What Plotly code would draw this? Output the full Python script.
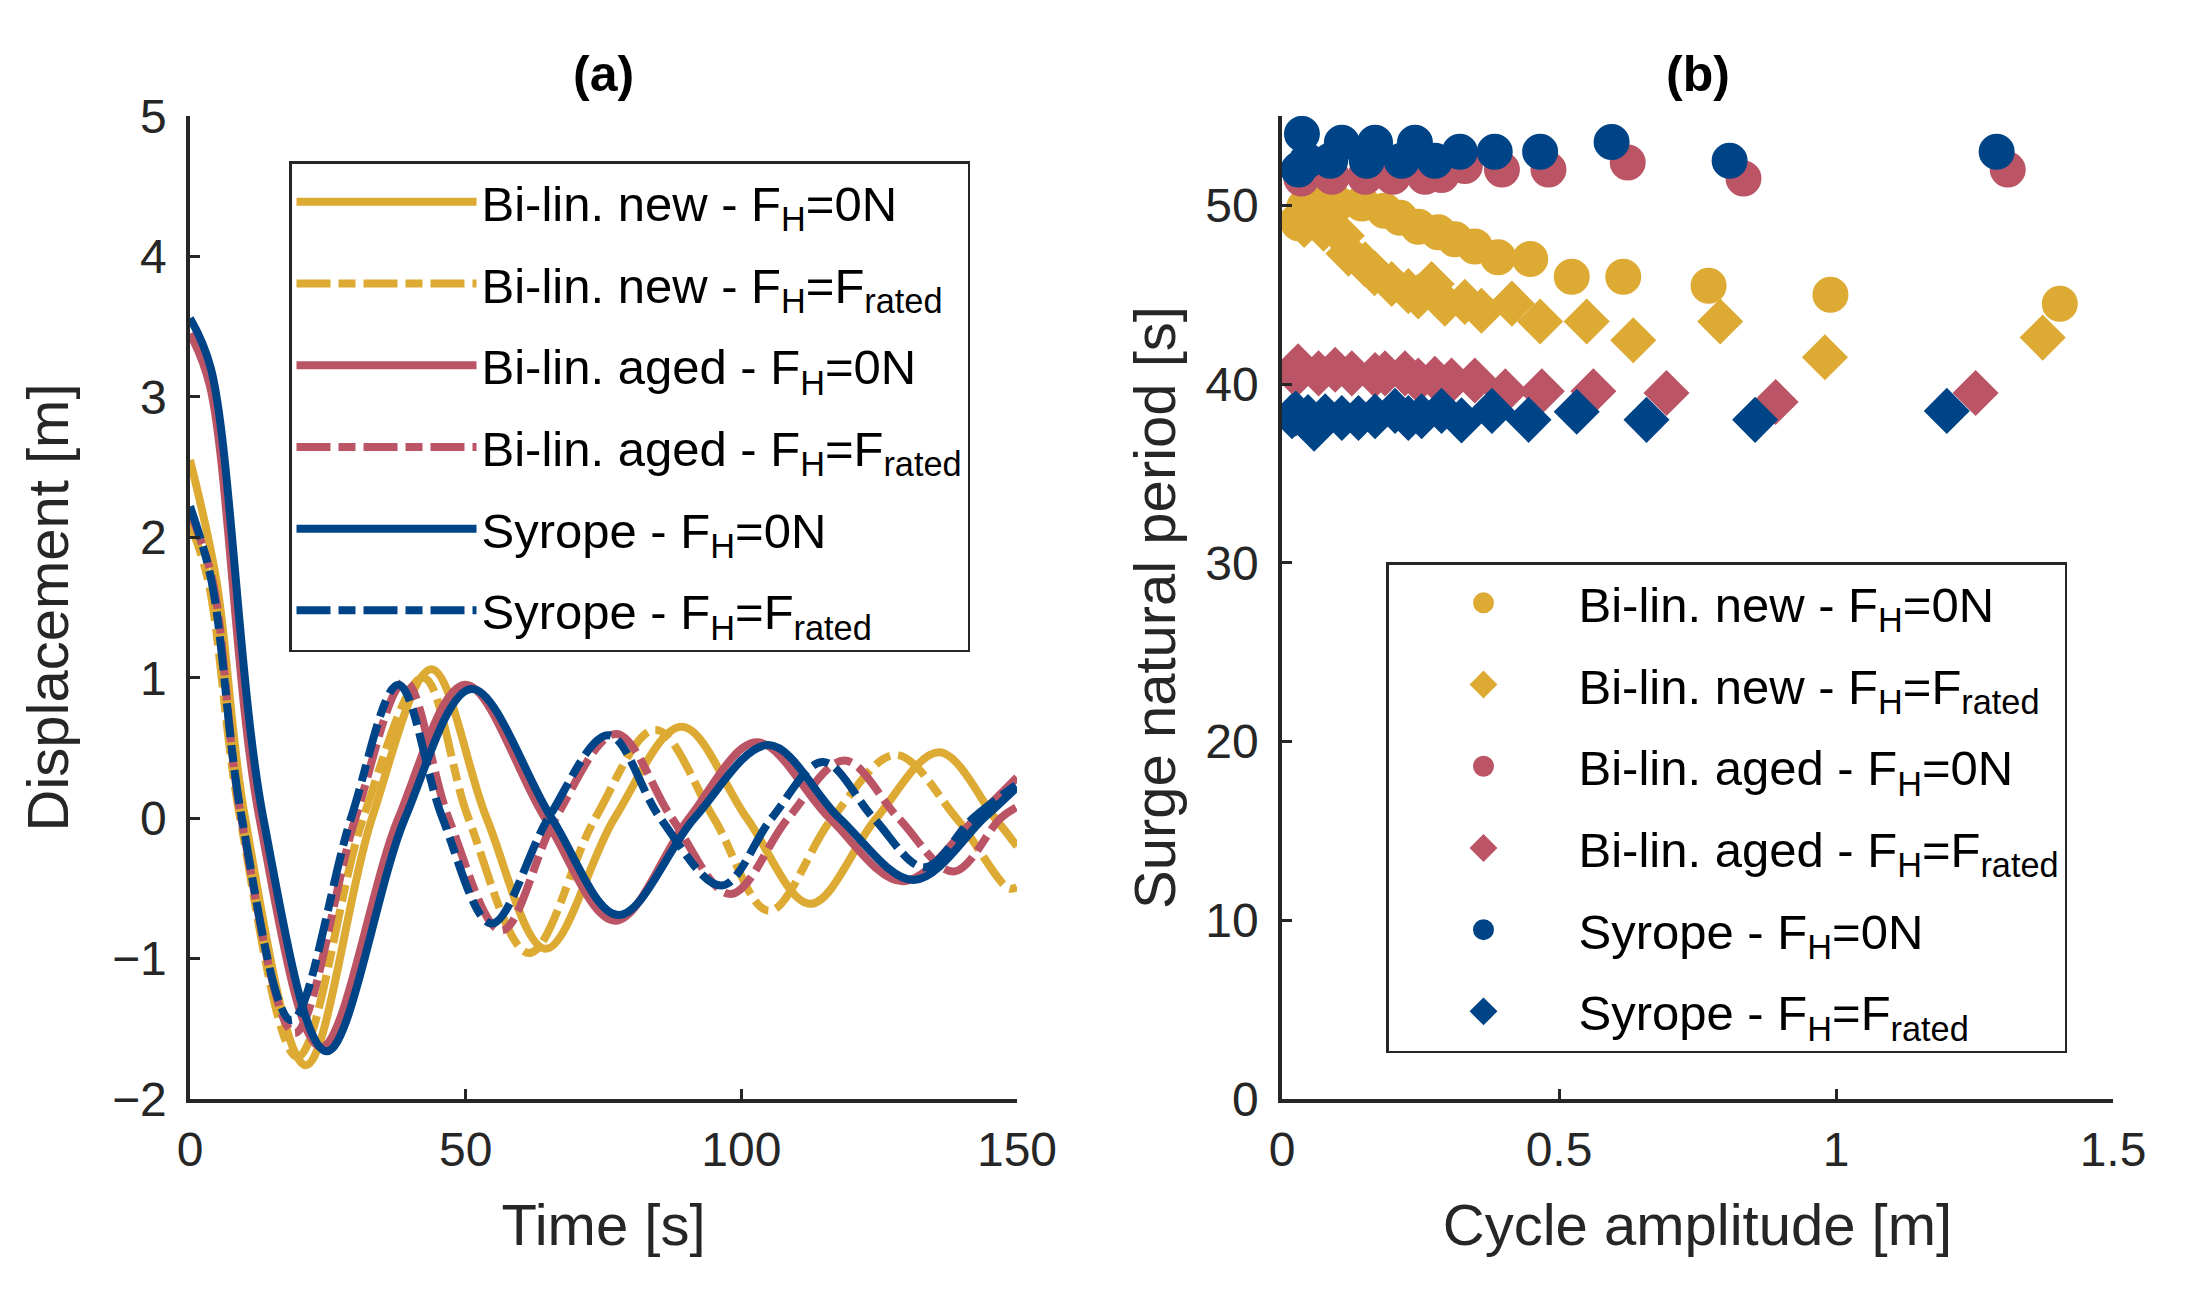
import plotly.graph_objects as go

# ---------------- Panel (a): free-decay time series ----------------
# values (start, early point, zero crossings and extrema)
t_new0 = [0, 4.8, 10.0, 21.0, 33.0, 43.8, 53.8, 64.5, 77.0, 89.2, 101.0, 112.5, 124.5, 135.9, 146.0, 150]
d_new0 = [2.55, 1.69, 0, -1.76, 0, 1.06, 0, -0.93, 0, 0.65, 0, -0.61, 0, 0.47, 0, -0.20]

t_newR = [0, 3.3, 9.1, 19.5, 31.4, 42.3, 50.5, 61.5, 73.5, 84.4, 95.0, 105.0, 116.5, 128.0, 139.0, 148.5, 150]
d_newR = [2.10, 1.69, 0, -1.70, 0, 1.0, 0, -0.96, 0, 0.63, 0, -0.66, 0, 0.45, 0, -0.50, -0.49]

t_aged0 = [0, 3.6, 12.6, 23.8, 37.8, 49.9, 64.4, 77.1, 90.5, 102.8, 116.0, 129.3, 142.5, 150]
d_aged0 = [3.45, 3.08, 0, -1.63, 0, 0.95, 0, -0.73, 0, 0.54, 0, -0.45, 0, 0.29]

t_agedR = [0, 4.1, 9.3, 19.0, 30.0, 39.0, 46.9, 56.5, 66.3, 77.3, 87.4, 98.0, 108.5, 118.7, 128.5, 138.5, 147.0, 150]
d_agedR = [2.18, 1.69, 0, -1.53, 0, 0.97, 0, -0.80, 0, 0.60, 0, -0.54, 0, 0.41, 0, -0.38, 0, 0.08]

t_syr0 = [0, 3.8, 13.3, 24.8, 39.0, 51.1, 65.6, 77.7, 91.5, 104.9, 117.8, 131.3, 144.0, 150]
d_syr0 = [3.56, 3.2, 0, -1.66, 0, 0.92, 0, -0.69, 0, 0.52, 0, -0.44, 0, 0.22]

t_syrR = [0, 3.9, 9.4, 18.4, 29.2, 37.8, 45.8, 54.7, 65.0, 75.9, 85.3, 96.4, 105.5, 114.8, 124.0, 133.2, 142.0, 150]
d_syrR = [2.22, 1.69, 0, -1.44, 0, 0.95, 0, -0.75, 0, 0.59, 0, -0.48, 0, 0.40, 0, -0.35, 0, 0.24]

# ---------------- Panel (b): period vs amplitude ----------------
a_new0 = [0.030, 0.040, 0.070, 0.100, 0.144, 0.185, 0.213, 0.246, 0.282, 0.312, 0.348, 0.390, 0.448, 0.523, 0.616, 0.770, 0.990, 1.404]
T_new0 = [49.0, 49.9, 50.0, 50.1, 50.1, 49.7, 49.3, 48.8, 48.5, 48.1, 47.7, 47.1, 47.0, 46.0, 46.0, 45.5, 45.0, 44.5]

a_newR = [0.030, 0.040, 0.075, 0.108, 0.120, 0.150, 0.167, 0.198, 0.228, 0.246, 0.270, 0.294, 0.330, 0.360, 0.415, 0.466, 0.550, 0.634, 0.791, 0.980, 1.373]
T_newR = [49.3, 48.9, 48.7, 48.3, 47.3, 46.7, 46.2, 45.6, 45.2, 44.9, 45.6, 44.5, 44.6, 44.1, 44.5, 43.5, 43.5, 42.45, 43.5, 41.5, 42.6]

a_aged0 = [0.035, 0.060, 0.090, 0.150, 0.200, 0.258, 0.288, 0.330, 0.397, 0.481, 0.624, 0.833, 1.310]
T_aged0 = [51.5, 52.0, 51.6, 51.6, 51.6, 51.6, 51.7, 52.2, 52.0, 52.0, 52.4, 51.5, 52.0]

a_agedR = [0.025, 0.029, 0.066, 0.096, 0.126, 0.168, 0.186, 0.222, 0.246, 0.276, 0.306, 0.348, 0.403, 0.469, 0.562, 0.694, 0.891, 1.252]
T_agedR = [40.5, 41.0, 40.6, 40.8, 40.6, 40.5, 40.6, 40.6, 40.2, 40.3, 40.2, 40.2, 39.6, 39.6, 39.6, 39.5, 39.0, 39.5]

a_syr0 = [0.030, 0.036, 0.045, 0.087, 0.108, 0.153, 0.168, 0.216, 0.240, 0.276, 0.321, 0.384, 0.466, 0.595, 0.808, 1.290]
T_syr0 = [52.0, 54.0, 52.5, 52.5, 53.5, 52.5, 53.5, 52.5, 53.5, 52.5, 53.0, 53.0, 53.0, 53.55, 52.5, 53.0]

a_syrR = [0.018, 0.025, 0.047, 0.058, 0.078, 0.108, 0.138, 0.168, 0.204, 0.228, 0.252, 0.288, 0.324, 0.379, 0.445, 0.532, 0.658, 0.854, 1.200]
T_syrR = [38.2, 38.35, 38.16, 37.5, 38.2, 38.1, 38.1, 38.2, 38.5, 38.1, 38.2, 38.5, 37.97, 38.5, 38.0, 38.45, 38.0, 38.0, 38.5]

names = [
    "Bi-lin. new - F<sub>H</sub>=0N",
    "Bi-lin. new - F<sub>H</sub>=F<sub>rated</sub>",
    "Bi-lin. aged - F<sub>H</sub>=0N",
    "Bi-lin. aged - F<sub>H</sub>=F<sub>rated</sub>",
    "Syrope - F<sub>H</sub>=0N",
    "Syrope - F<sub>H</sub>=F<sub>rated</sub>",
]

YEL = "#DDAA33"
RED = "#BB5566"
BLU = "#004488"
AX = "#262626"
FONT = "Liberation Sans, Arial, sans-serif"
DASHDOT = "34px,8px,17px,8px"

W, H = 2171, 1283   # page body keeps an 8 px margin inside the 2187x1299 window
OFF = 8


def px_x(p):
    return (p - OFF) / W


def px_y(p):
    return 1 - (p - OFF) / H


fig = go.Figure()

series_a = [
    (t_new0, d_new0, YEL, "solid"),
    (t_newR, d_newR, YEL, DASHDOT),
    (t_aged0, d_aged0, RED, "solid"),
    (t_agedR, d_agedR, RED, DASHDOT),
    (t_syr0, d_syr0, BLU, "solid"),
    (t_syrR, d_syrR, BLU, DASHDOT),
]
for i, (tt, dd, col, dash) in enumerate(series_a):
    fig.add_trace(go.Scatter(
        x=tt, y=dd, mode="lines", name=names[i],
        line=dict(color=col, width=8, dash=dash, shape="spline", smoothing=1.0),
        xaxis="x", yaxis="y", legend="legend", legendgroup="a%d" % i,
    ))

series_b = [
    (a_new0, T_new0, YEL, "circle"),
    (a_newR, T_newR, YEL, "diamond"),
    (a_aged0, T_aged0, RED, "circle"),
    (a_agedR, T_agedR, RED, "diamond"),
    (a_syr0, T_syr0, BLU, "circle"),
    (a_syrR, T_syrR, BLU, "diamond"),
]
for i, (aa, TT, col, sym) in enumerate(series_b):
    fig.add_trace(go.Scatter(
        x=aa, y=TT, mode="markers", name=names[i],
        marker=dict(color=col, symbol=sym, size=31 if sym == "circle" else 30,
                    line=dict(width=5, color=col)),
        xaxis="x2", yaxis="y2", legend="legend2", legendgroup="b%d" % i,
    ))

axis_common = dict(
    showline=True, linecolor=AX, linewidth=3.5, mirror=False,
    ticks="inside", ticklen=10, tickwidth=3, tickcolor=AX,
    showgrid=False, zeroline=False, automargin=False,
    tickfont=dict(family=FONT, size=48, color=AX),
    title_font=dict(family=FONT, size=58, color=AX),
)

legend_common = dict(
    xanchor="left", yanchor="top",
    bordercolor=AX, borderwidth=2.5, bgcolor="white",
    font=dict(family=FONT, size=49, color="black"),
    itemwidth=180, tracegroupgap=15, traceorder="grouped",
)

fig.update_layout(
    template="none",
    width=W, height=H,
    paper_bgcolor="white", plot_bgcolor="white",
    margin=dict(l=0, r=0, t=0, b=0, pad=0),
    showlegend=True,
    xaxis=dict(domain=[px_x(190), px_x(1017)], range=[0, 150], tickvals=[0, 50, 100, 150],
               anchor="y", ticklabelstandoff=6,
               title=dict(text="Time [s]", standoff=30), **axis_common),
    yaxis=dict(domain=[px_y(1099), px_y(116)], range=[-2, 5], tickvals=[-2, -1, 0, 1, 2, 3, 4, 5],
               anchor="x", ticklabelstandoff=10,
               title=dict(text="Displacement [m]", standoff=26), **axis_common),
    xaxis2=dict(domain=[px_x(1282), px_x(2113)], range=[0, 1.5], tickvals=[0, 0.5, 1, 1.5],
                ticktext=["0", "0.5", "1", "1.5"], anchor="y2", ticklabelstandoff=6,
                title=dict(text="Cycle amplitude [m]", standoff=30), **axis_common),
    yaxis2=dict(domain=[px_y(1099), px_y(116)], range=[0, 55], tickvals=[0, 10, 20, 30, 40, 50],
                anchor="x2", ticklabelstandoff=10,
                title=dict(text="Surge natural period [s]", standoff=12), **axis_common),
    legend=dict(x=px_x(289), y=px_y(161), **legend_common),
    legend2=dict(x=px_x(1386), y=px_y(562), **legend_common),
    annotations=[
        dict(text="<b>(a)</b>", x=0.5, xref="x domain", y=px_y(104), yref="paper",
             xanchor="center", yanchor="bottom", showarrow=False,
             font=dict(family=FONT, size=50, color="black")),
        dict(text="<b>(b)</b>", x=0.5, xref="x2 domain", y=px_y(104), yref="paper",
             xanchor="center", yanchor="bottom", showarrow=False,
             font=dict(family=FONT, size=50, color="black")),
    ],
)

fig.write_html("out.html")
